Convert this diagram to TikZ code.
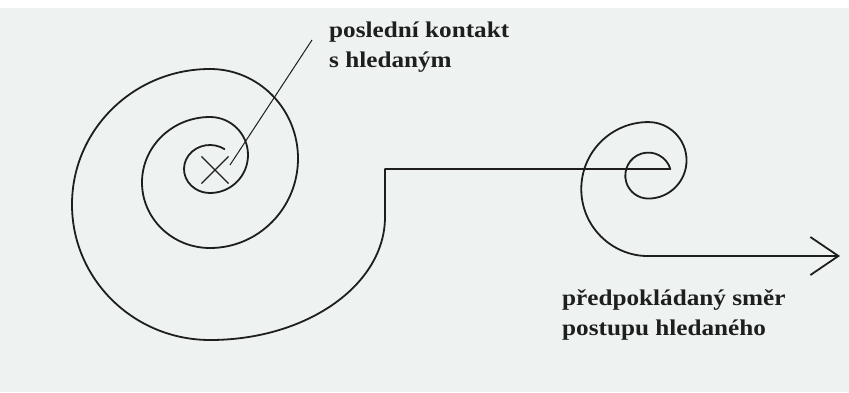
\documentclass[tikz,border=0pt]{standalone}
\usepackage{fontspec}
\setmainfont{Liberation Serif}
\newfontfamily\scanfont[FakeStretch=1.12]{Liberation Serif}
\usepackage{tikz}
\usetikzlibrary{shapes.misc, arrows.meta, positioning, calc}

\definecolor{paper}{RGB}{238,243,242}
\definecolor{ink}{RGB}{30,30,30}

\begin{document}
\begin{tikzpicture}[
            x=1pt, y=1pt,
            spiral/.style={draw=ink, line width=1.8pt, line join=round},
            pointer/.style={draw=ink, line width=1pt},
            label/.style={anchor=north west, inner sep=0pt, align=left, text=ink,
                font=\scanfont\bfseries\fontsize{22.5}{30}\selectfont}
        ]
            \useasboundingbox (0,0) rectangle (849,392);
            \fill[paper] (0,0) rectangle (849,384);

            \node[cross out, draw=ink, line width=1.1pt, minimum size=26pt, inner sep=0pt] (contact) at (215,222) {};
            \node[label] (lastlabel) at (329,370.5) {poslední kontakt\\s hledaným};
            \node[label] (dirlabel) at (562,102.5) {předpokládaný směr\\postupu hledaného};

            \coordinate (lead) at (312,352);
            \coordinate (tip) at (230,227);
            \draw[pointer] (lead) -- (tip);

            \draw[spiral, -{Straight Barb[length=28pt, width=38pt]}]
                ($(210,223)+(55:26 and 24)$)
                arc[start angle=55, end angle=270, x radius=26, y radius=24]
                arc[start angle=-90, end angle=90, radius=38]
                arc[start angle=90, end angle=270, x radius=68, y radius=65.5]
                arc[start angle=-90, end angle=90, x radius=88, y radius=89.5]
                arc[start angle=90, end angle=270, x radius=138, y radius=135.5]
                arc[start angle=270, end angle=360, x radius=175, y radius=123]
                -- (385,223) -- (670.32,223)
                arc[start angle=16.6, end angle=270, radius=23]
                arc[start angle=-90, end angle=90, radius=38.25]
                arc[start angle=90, end angle=270, radius=67]
                -- (840,136);
        \end{tikzpicture}
\end{document}
